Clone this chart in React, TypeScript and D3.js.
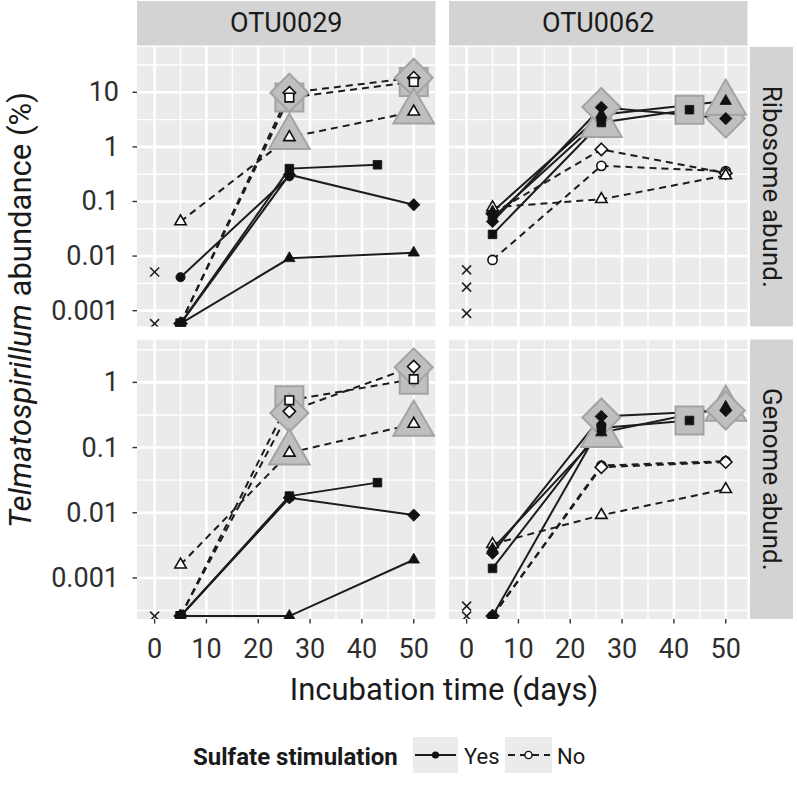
import React from "react";
import * as d3 from "d3";

type Shape = "circle" | "square" | "triangle" | "diamond";
type Series = { treat: "Yes" | "No"; shape: Shape; days: number[]; vals: number[] };
type Highlight = { shape: Shape; day: number; val: number };

const OTUS = ["OTU0029", "OTU0062"];
const MEASURES = ["Ribosome abund.", "Genome abund."];
const X_TICKS = [0, 10, 20, 30, 40, 50];
const X_MINOR = [5, 15, 25, 35, 45];
const Y_TICKS = [[0.001, 0.01, 0.1, 1, 10], [0.001, 0.01, 0.1, 1]];
const Y_TICK_LABELS = [["0.001", "0.01", "0.1", "1", "10"], ["0.001", "0.01", "0.1", "1"]];
const Y_MINOR = [
  [10 ** -2.5, 10 ** -1.5, 10 ** -0.5, 10 ** 0.5, 10 ** 1.5],
  [10 ** -3.5, 10 ** -2.5, 10 ** -1.5, 10 ** -0.5, 10 ** 0.5],
];
const X_DOMAIN = [-3.4, 54.2];
const Y_DOMAINS = [[10 ** -3.29, 10 ** 1.83], [10 ** -3.63, 10 ** 0.658]];

const LOW_R = 0.00058; // values below detection, ribosome rows
const LOW_G = 0.00026; // values below detection, genome rows

// OTU0029, ribosome abundance
const R29_SERIES: Series[] = [
  { treat: "No", shape: "triangle", days: [5, 26, 50], vals: [0.043, 1.5, 4.4] },
  { treat: "No", shape: "diamond", days: [5, 26, 50], vals: [LOW_R, 9.8, 18.5] },
  { treat: "No", shape: "square", days: [5, 26, 50], vals: [LOW_R, 8.0, 15.5] },
  { treat: "Yes", shape: "circle", days: [5, 26], vals: [0.0041, 0.29] },
  { treat: "Yes", shape: "square", days: [5, 26, 43], vals: [LOW_R, 0.4, 0.47] },
  { treat: "Yes", shape: "diamond", days: [5, 26, 50], vals: [LOW_R, 0.31, 0.087] },
  { treat: "Yes", shape: "triangle", days: [5, 26, 50], vals: [LOW_R, 0.0091, 0.0115] },
];
const R29_DAY0 = [0.0051, LOW_R];
const R29_HIGHLIGHT: Highlight[] = [
  { shape: "square", day: 26, val: 8.0 },
  { shape: "diamond", day: 26, val: 9.8 },
  { shape: "triangle", day: 26, val: 1.5 },
  { shape: "square", day: 50, val: 15.5 },
  { shape: "diamond", day: 50, val: 18.5 },
  { shape: "triangle", day: 50, val: 4.4 },
];

// OTU0062, ribosome abundance
const R62_SERIES: Series[] = [
  { treat: "No", shape: "circle", days: [5, 26, 50], vals: [0.0085, 0.45, 0.36] },
  { treat: "No", shape: "diamond", days: [5, 26, 50], vals: [0.06, 0.9, 0.33] },
  { treat: "No", shape: "triangle", days: [5, 26, 50], vals: [0.078, 0.11, 0.3] },
  { treat: "Yes", shape: "circle", days: [5, 26], vals: [0.05, 3.2] },
  { treat: "Yes", shape: "square", days: [5, 26, 43], vals: [0.025, 2.8, 4.8] },
  { treat: "Yes", shape: "diamond", days: [5, 26, 50], vals: [0.043, 5.3, 3.3] },
  { treat: "Yes", shape: "triangle", days: [5, 26, 50], vals: [0.065, 3.9, 6.9] },
];
const R62_DAY0 = [0.0056, 0.0027, 0.00089];
const R62_HIGHLIGHT: Highlight[] = [
  { shape: "triangle", day: 26, val: 2.5 },
  { shape: "diamond", day: 26, val: 5.4 },
  { shape: "square", day: 43, val: 4.8 },
  { shape: "diamond", day: 50, val: 3.3 },
  { shape: "triangle", day: 50, val: 6.4 },
];

// OTU0029, genome abundance
const G29_SERIES: Series[] = [
  { treat: "No", shape: "triangle", days: [5, 26, 50], vals: [0.0016, 0.083, 0.23] },
  { treat: "No", shape: "diamond", days: [5, 26, 50], vals: [LOW_G, 0.36, 1.75] },
  { treat: "No", shape: "square", days: [5, 26, 50], vals: [LOW_G, 0.53, 1.12] },
  { treat: "Yes", shape: "circle", days: [5, 26], vals: [LOW_G, 0.017] },
  { treat: "Yes", shape: "square", days: [5, 26, 43], vals: [LOW_G, 0.018, 0.029] },
  { treat: "Yes", shape: "diamond", days: [5, 26, 50], vals: [LOW_G, 0.017, 0.0092] },
  { treat: "Yes", shape: "triangle", days: [5, 26, 50], vals: [LOW_G, LOW_G, 0.0019] },
];
const G29_DAY0 = [LOW_G];
const G29_HIGHLIGHT: Highlight[] = [
  { shape: "square", day: 26, val: 0.53 },
  { shape: "diamond", day: 26, val: 0.34 },
  { shape: "triangle", day: 26, val: 0.083 },
  { shape: "square", day: 50, val: 1.1 },
  { shape: "diamond", day: 50, val: 1.7 },
  { shape: "triangle", day: 50, val: 0.23 },
];

// OTU0062, genome abundance
const G62_SERIES: Series[] = [
  { treat: "No", shape: "triangle", days: [5, 26, 50], vals: [0.0033, 0.0092, 0.023] },
  { treat: "No", shape: "circle", days: [5, 26, 50], vals: [LOW_G, 0.053, 0.062] },
  { treat: "No", shape: "diamond", days: [5, 26, 50], vals: [LOW_G, 0.05, 0.06] },
  { treat: "Yes", shape: "circle", days: [5, 26], vals: [LOW_G, 0.22] },
  { treat: "Yes", shape: "square", days: [5, 26, 43], vals: [0.0014, 0.2, 0.26] },
  { treat: "Yes", shape: "diamond", days: [5, 26, 50], vals: [0.0024, 0.3, 0.37] },
  { treat: "Yes", shape: "triangle", days: [5, 26, 50], vals: [0.0028, 0.17, 0.42] },
];
const G62_DAY0 = [0.00037, LOW_G];
const G62_HIGHLIGHT: Highlight[] = [
  { shape: "triangle", day: 26, val: 0.155 },
  { shape: "diamond", day: 26, val: 0.29 },
  { shape: "square", day: 43, val: 0.26 },
  { shape: "triangle", day: 50, val: 0.39 },
  { shape: "diamond", day: 50, val: 0.37 },
];

const PANELS = [
  { col: 0, row: 0, series: R29_SERIES, day0: R29_DAY0, hl: R29_HIGHLIGHT },
  { col: 1, row: 0, series: R62_SERIES, day0: R62_DAY0, hl: R62_HIGHLIGHT },
  { col: 0, row: 1, series: G29_SERIES, day0: G29_DAY0, hl: G29_HIGHLIGHT },
  { col: 1, row: 1, series: G62_SERIES, day0: G62_DAY0, hl: G62_HIGHLIGHT },
];

// layout
const W = 797;
const H = 785;
const COL_X = [137, 449];
const ROW_Y = [47, 339.5];
const PW = 298.5;
const PH = 279.5;
const STRIP_TOP = 1;
const STRIP_R = 750;
const STRIP_RW = 43;
const FONT = "Roboto, 'Open Sans', sans-serif";

const SMALL: Record<Shape, number> = { circle: 4.6, square: 4.3, triangle: 6.6, diamond: 6.2 };
const BIG: Record<Shape, number> = { circle: 16, square: 14, triangle: 23.5, diamond: 19 };

function shapePath(shape: Shape, r: number): string {
  switch (shape) {
    case "square":
      return `M${-r},${-r}H${r}V${r}H${-r}Z`;
    case "triangle": {
      const h = r * 0.866;
      return `M0,${-r}L${h},${r / 2}L${-h},${r / 2}Z`;
    }
    case "diamond":
      return `M0,${-r}L${r},0L0,${r}L${-r},0Z`;
    default:
      return `M${r},0A${r},${r} 0 1,1 ${-r},0A${r},${r} 0 1,1 ${r},0Z`;
  }
}

export default function App() {
  const x = d3.scaleLinear().domain(X_DOMAIN).range([0, PW]);
  const ys = Y_DOMAINS.map((dom) => d3.scaleLog().domain(dom).range([PH, 0]));

  return (
    <svg
      width={W}
      height={H}
      style={{ position: "absolute", left: 0, top: 0, background: "#fff" }}
      fontFamily={FONT}
    >
      <defs>
        {PANELS.map((p, i) => (
          <clipPath id={`clip${i}`} key={i}>
            <rect x={0} y={0} width={PW} height={PH} />
          </clipPath>
        ))}
      </defs>

      {/* top strips */}
      {OTUS.map((o, c) => (
        <g key={o}>
          <rect x={COL_X[c]} y={STRIP_TOP} width={PW} height={ROW_Y[0] - STRIP_TOP - 1.5} fill="#d3d3d3" />
          <text
            x={COL_X[c] + PW / 2}
            y={(STRIP_TOP + ROW_Y[0] - 1.5) / 2}
            textAnchor="middle"
            dominantBaseline="central"
            fontSize={27}
            fill="#1a1a1a"
          >
            {o}
          </text>
        </g>
      ))}

      {/* right strips */}
      {MEASURES.map((m, r) => (
        <g key={m}>
          <rect x={STRIP_R} y={ROW_Y[r]} width={STRIP_RW} height={PH} fill="#d3d3d3" />
          <text
            transform={`translate(${STRIP_R + STRIP_RW / 2},${ROW_Y[r] + PH / 2}) rotate(90)`}
            textAnchor="middle"
            dominantBaseline="central"
            fontSize={26}
            fill="#1a1a1a"
          >
            {m}
          </text>
        </g>
      ))}

      {PANELS.map((p, i) => {
        const y = ys[p.row];
        const line = d3
          .line<[number, number]>()
          .x((d) => x(d[0]))
          .y((d) => y(d[1]));
        const ordered = [...p.series.filter((s) => s.treat === "No"), ...p.series.filter((s) => s.treat === "Yes")];
        return (
          <g key={i} transform={`translate(${COL_X[p.col]},${ROW_Y[p.row]})`}>
            <g clipPath={`url(#clip${i})`}>
              <rect x={0} y={0} width={PW} height={PH} fill="#ebebeb" />
              {X_MINOR.map((t) => (
                <line key={`xm${t}`} x1={x(t)} x2={x(t)} y1={0} y2={PH} stroke="#fff" strokeWidth={1.4} />
              ))}
              {Y_MINOR[p.row].map((t) => (
                <line key={`ym${t}`} x1={0} x2={PW} y1={y(t)} y2={y(t)} stroke="#fff" strokeWidth={1.4} />
              ))}
              {X_TICKS.map((t) => (
                <line key={`xM${t}`} x1={x(t)} x2={x(t)} y1={0} y2={PH} stroke="#fff" strokeWidth={2.6} />
              ))}
              {Y_TICKS[p.row].map((t) => (
                <line key={`yM${t}`} x1={0} x2={PW} y1={y(t)} y2={y(t)} stroke="#fff" strokeWidth={2.6} />
              ))}

              {ordered.map((s, k) => (
                <path
                  key={`l${k}`}
                  d={line(s.days.map((d, j) => [d, s.vals[j]] as [number, number])) || ""}
                  fill="none"
                  stroke="#1c1c1c"
                  strokeWidth={2}
                  strokeDasharray={s.treat === "No" ? "7 5" : undefined}
                />
              ))}

              {p.hl.map((h, k) => (
                <path
                  key={`h${k}`}
                  d={shapePath(h.shape, BIG[h.shape])}
                  transform={`translate(${x(h.day)},${y(h.val)})`}
                  fill="#bfbfbf"
                  stroke="#a3a3a3"
                  strokeWidth={2}
                />
              ))}

              {ordered.map((s) =>
                s.days.map((d, j) => (
                  <path
                    key={`m${s.treat}${s.shape}${j}`}
                    d={shapePath(s.shape, SMALL[s.shape])}
                    transform={`translate(${x(d)},${y(s.vals[j])})`}
                    fill={s.treat === "Yes" ? "#111" : "#fff"}
                    stroke="#111"
                    strokeWidth={s.treat === "Yes" ? 0.8 : 1.6}
                  />
                ))
              )}

              {p.day0.map((v, k) => (
                <g key={`c${k}`} transform={`translate(${x(0)},${y(v)})`} stroke="#222" strokeWidth={1.6}>
                  <line x1={-4.5} y1={-4.5} x2={4.5} y2={4.5} />
                  <line x1={-4.5} y1={4.5} x2={4.5} y2={-4.5} />
                </g>
              ))}
            </g>

            {/* y axis */}
            {p.col === 0 &&
              Y_TICKS[p.row].map((t, k) => (
                <g key={`yt${t}`}>
                  <line x1={-4.5} x2={0} y1={y(t)} y2={y(t)} stroke="#333" strokeWidth={1.4} />
                  <text
                    x={-18}
                    y={y(t)}
                    textAnchor="end"
                    dominantBaseline="central"
                    fontSize={27}
                    fill="#2e2e2e"
                  >
                    {Y_TICK_LABELS[p.row][k]}
                  </text>
                </g>
              ))}

            {/* x axis */}
            {p.row === 1 &&
              X_TICKS.map((t) => (
                <g key={`xt${t}`}>
                  <line x1={x(t)} x2={x(t)} y1={PH} y2={PH + 4.5} stroke="#333" strokeWidth={1.4} />
                  <text x={x(t)} y={PH + 39} textAnchor="middle" fontSize={27} fill="#2e2e2e">
                    {t}
                  </text>
                </g>
              ))}
          </g>
        );
      })}

      {/* axis titles */}
      <text x={444} y={700} textAnchor="middle" fontSize={31} fill="#1a1a1a">
        Incubation time (days)
      </text>
      <text
        transform={`translate(31,310) rotate(-90)`}
        textAnchor="middle"
        fontSize={31}
        fill="#1a1a1a"
      >
        <tspan fontStyle="italic">Telmatospirillum</tspan>
        <tspan> abundance (%)</tspan>
      </text>

      {/* legend */}
      <g>
        <text x={193} y={765} fontSize={24} fontWeight="bold" fill="#1a1a1a">
          Sulfate stimulation
        </text>
        <rect x={413} y={737} width={45} height={36} fill="#ebebeb" />
        <line x1={415} x2={456} y1={755} y2={755} stroke="#1c1c1c" strokeWidth={2} />
        <path d={shapePath("circle", 3.6)} transform="translate(435.5,755)" fill="#111" />
        <text x={464} y={764} fontSize={22} fill="#1a1a1a">
          Yes
        </text>
        <rect x={505} y={737} width={47} height={36} fill="#ebebeb" />
        <line x1={507} x2={550} y1={755} y2={755} stroke="#1c1c1c" strokeWidth={2} strokeDasharray="7 5" strokeDashoffset={-1} />
        <path d={shapePath("circle", 3.6)} transform="translate(528.5,755)" fill="#fff" stroke="#111" strokeWidth={1.4} />
        <text x={557} y={764} fontSize={22} fill="#1a1a1a">
          No
        </text>
      </g>
    </svg>
  );
}
